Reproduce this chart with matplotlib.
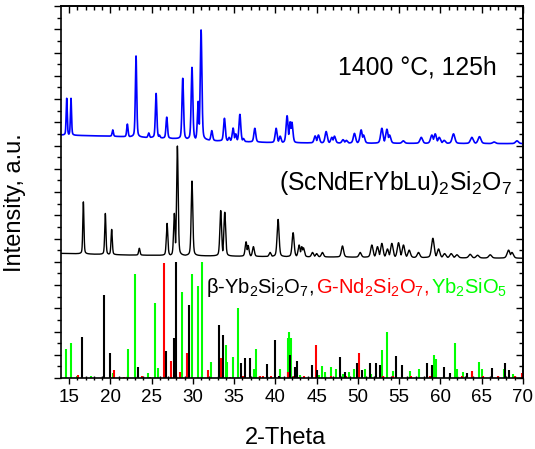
import numpy as np
import matplotlib
matplotlib.use("Agg")
import matplotlib.pyplot as plt
from matplotlib.ticker import MultipleLocator, NullFormatter
from matplotlib.offsetbox import TextArea, HPacker, AnnotationBbox

plt.rcParams['font.family'] = ['Liberation Sans', 'DejaVu Sans']
plt.rcParams['mathtext.fontset'] = 'custom'
plt.rcParams['mathtext.rm'] = 'Liberation Sans'
plt.rcParams['mathtext.it'] = 'Liberation Sans:italic'
plt.rcParams['mathtext.default'] = 'regular'

# --- 1400 C, 125h pattern (blue, offset trace on top) ---
blue_pos = [14.72, 15.24, 20.3, 22.07, 23.12, 24.66, 25.55, 25.95, 26.84, 28.78,
            29.9, 30.65, 31.0, 32.3, 33.83, 34.4, 34.88, 35.2, 35.7, 36.13,
            37.51, 40.09, 40.58, 41.42, 41.79, 42.0, 44.82, 45.22, 46.15, 46.84,
            47.16, 48.2, 48.6, 49.58, 50.39, 50.68, 52.9, 53.51, 53.83, 55.5,
            57.67, 58.96, 59.36, 59.85, 60.45, 61.58, 63.8, 64.73, 66.5, 69.27]
blue_top = [12.03, 12.03, 10.67, 10.92, 13.85, 10.54, 12.24, 10.45, 11.22, 12.89,
            13.36, 11.9, 14.97, 10.64, 11.17, 10.35, 10.75, 10.5, 11.34, 10.3,
            10.74, 10.74, 10.4, 11.28, 11.02, 11.0, 10.41, 10.45, 10.6, 10.35,
            10.4, 10.25, 10.22, 10.52, 10.67, 10.45, 10.74, 10.7, 10.45, 10.2,
            10.35, 10.45, 10.5, 10.35, 10.22, 10.5, 10.35, 10.38, 10.15, 10.2]
blue_base_x = [14, 20, 27, 33, 40, 50, 70]
blue_base_y = [10.45, 10.4, 10.31, 10.2, 10.12, 10.1, 10.08]

# --- (ScNdErYbLu)2Si2O7 pattern (black, middle trace) ---
black_pos = [16.74, 19.4, 20.17, 23.52, 26.88, 27.76, 28.13, 29.9, 33.38, 33.87,
             36.45, 36.7, 37.34, 39.36, 40.33, 42.15, 42.88, 43.2, 43.4, 44.5,
             45.0, 45.7, 48.13, 50.27, 51.69, 52.37, 52.9, 53.58, 54.11, 54.92,
             55.52, 56.21, 57.34, 59.08, 59.77, 60.5, 61.3, 62.0, 63.6, 64.5,
             66.03, 68.25, 68.66]
black_top = [7.58, 7.08, 6.39, 5.58, 6.65, 7.08, 9.98, 8.47, 7.2, 7.13,
             5.86, 5.7, 5.65, 5.4, 6.82, 6.25, 5.72, 5.65, 5.6, 5.4,
             5.35, 5.4, 5.68, 5.4, 5.72, 5.65, 5.79, 5.55, 5.79, 5.82,
             5.72, 5.5, 5.4, 6.01, 5.55, 5.35, 5.35, 5.3, 5.32, 5.28,
             5.3, 5.5, 5.4]
black_base_x = [14, 22, 40, 70]
black_base_y = [5.36, 5.29, 5.22, 5.15]

# --- reference sticks ---
yb2sio5_pos = [14.6, 15.21, 15.93, 17.63, 20.37, 22.11, 23.0, 24.54, 25.42, 25.83,
               28.7, 29.87, 30.64, 31.12, 32.25, 34.03, 34.19, 34.88, 35.52, 37.4,
               37.67, 40.58, 41.51, 41.7, 41.87, 43.0, 45.3, 45.7, 46.03, 46.72,
               47.33, 48.17, 48.86, 49.58, 50.88, 51.61, 52.9, 53.51, 54.31, 56.25,
               57.35, 59.17, 59.45, 61.71, 62.0, 62.72, 63.8, 64.73, 65.02, 67.65,
               68.78]
yb2sio5_int = [1.23, 1.49, 0.1, 0.1, 0.2, 1.23, 4.47, 0.2, 3.24, 0.43,
               3.71, 4.47, 3.96, 5.0, 0.69, 1.42, 0.69, 0.92, 3.0, 0.4,
               1.25, 0.37, 1.73, 1.99, 1.7, 0.12, 0.12, 0.53, 0.25, 0.46,
               0.4, 0.18, 0.25, 0.4, 0.4, 0.18, 1.22, 1.99, 0.3, 0.3,
               0.4, 0.97, 0.83, 1.49, 0.4, 0.25, 0.2, 0.69, 0.4, 0.4,
               0.18]

nd2si2o7_pos = [16.07, 20.49, 21.67, 23.82, 24.82, 26.48, 27.33, 28.42, 29.3, 29.5,
                31.81, 33.38, 34.5, 36.13, 38.15, 38.55, 39.44, 41.48, 42.2, 42.8,
                43.5, 44.98, 46.8, 48.5, 50.19, 51.5, 53.0, 54.2, 56.4, 58.7,
                60.4, 62.6, 63.8, 65.2, 67.0, 69.0, 69.9]
nd2si2o7_int = [0.13, 0.36, 0.05, 0.1, 0.05, 4.96, 0.73, 0.24, 1.06, 0.15,
                0.33, 0.87, 0.05, 0.1, 0.1, 0.07, 0.07, 0.24, 0.07, 0.05,
                0.07, 1.42, 0.07, 0.07, 1.06, 0.07, 0.07, 0.07, 0.07, 0.07,
                0.07, 0.07, 0.3, 0.07, 0.07, 0.07, 0.2]

yb2si2o7_pos = [16.62, 19.28, 19.97, 23.33, 26.76, 27.73, 27.94, 29.58, 33.14, 33.63,
                35.78, 36.27, 36.91, 38.97, 39.9, 40.43, 41.76, 42.38, 42.62, 44.42,
                45.03, 47.85, 48.45, 49.87, 50.48, 51.48, 52.17, 52.62, 54.64, 55.33,
                58.36, 58.97, 60.38, 61.1, 63.2, 66.3, 67.85, 68.25]
yb2si2o7_int = [1.75, 3.57, 1.06, 0.49, 1.16, 1.71, 5.0, 3.14, 2.28, 1.85,
                0.63, 0.87, 0.87, 0.6, 1.62, 0.1, 1.0, 0.47, 0.72, 0.56,
                0.34, 0.92, 0.27, 0.63, 0.34, 0.66, 0.63, 0.56, 0.95, 0.56,
                0.63, 0.56, 0.49, 0.2, 0.2, 0.42, 0.63, 0.34]

two_theta = np.linspace(14, 70, 6000)


def trace(pos, top, base_x, base_y):
    base = np.interp(two_theta, base_x, base_y)
    y = np.zeros_like(two_theta)
    for p, t in zip(pos, top):
        h = t - np.interp(p, base_x, base_y)
        w = 0.15 + 0.005 * (p - 14)
        d = (two_theta - p) / w
        prof = h * (0.65 * np.exp(-4 * np.log(2) * d ** 2) + 0.35 / (1 + 4 * d ** 2))
        y = np.maximum(y, prof)
    return base + y


fig = plt.figure(figsize=(5.35, 4.49), dpi=100)
ax = fig.add_axes([61 / 535, 71 / 449, 462 / 535, 372 / 449])

ax.plot(two_theta, trace(blue_pos, blue_top, blue_base_x, blue_base_y), color='#0000ff', lw=1.2)
ax.plot(two_theta, trace(black_pos, black_top, black_base_x, black_base_y), color='black', lw=1.0)

ax.vlines(yb2sio5_pos, 0, yb2sio5_int, color='#00ff00', lw=1.5)
ax.vlines(nd2si2o7_pos, 0, nd2si2o7_int, color='#ff0000', lw=1.5)
ax.vlines(yb2si2o7_pos, 0, yb2si2o7_int, color='black', lw=1.5)

ax.set_xlim(14.03, 70)
ax.set_ylim(0, 16)

ax.xaxis.set_major_locator(MultipleLocator(5))
ax.xaxis.set_minor_locator(MultipleLocator(1))
ax.yaxis.set_major_locator(MultipleLocator(1))
ax.yaxis.set_minor_locator(MultipleLocator(0.5))
ax.tick_params(axis='x', which='major', direction='out', length=4, width=1, labelsize=13.5, pad=4)
ax.tick_params(axis='x', which='minor', direction='inout', length=3, width=1)
ax.tick_params(axis='y', which='major', direction='out', length=5, width=1, labelleft=False)
ax.tick_params(axis='y', which='minor', direction='out', length=3, width=1)
for s in ax.spines.values():
    s.set_linewidth(1.2)

top = ax.secondary_xaxis('top')
top.xaxis.set_major_locator(MultipleLocator(5))
top.xaxis.set_minor_locator(MultipleLocator(1))
top.xaxis.set_major_formatter(NullFormatter())
top.tick_params(which='major', direction='in', length=5, width=1)
top.tick_params(which='minor', direction='in', length=3, width=1)
top.spines['top'].set_linewidth(1.2)

right = ax.secondary_yaxis('right')
right.yaxis.set_major_locator(MultipleLocator(1))
right.yaxis.set_minor_locator(MultipleLocator(0.5))
right.yaxis.set_major_formatter(NullFormatter())
right.tick_params(which='major', direction='in', length=5, width=1)
right.tick_params(which='minor', direction='in', length=3, width=1)
right.spines['right'].set_linewidth(1.2)

ax.set_xlabel('2-Theta', fontsize=17, va='baseline')
ax.xaxis.set_label_coords(0.485, -66 / 372)
ax.set_ylabel('Intensity, a.u.', fontsize=17, va='center')
ax.yaxis.set_label_coords(-46 / 462, 175 / 372)

ax.text(47.6, 13.07, '1400 °C, 125h', fontsize=17.8, va='baseline')
ax.text(40.5, 8.09, r'(ScNdErYbLu)$_2$Si$_2$O$_7$', fontsize=17.8, va='baseline')

nb = '\u00a0'
parts = [(r'$\beta$-Yb$_2$Si$_2$O$_7$,' + nb, 'black'),
         (r'G-Nd$_2$Si$_2$O$_7$,' + nb, '#ff0000'),
         (r'Yb$_2$SiO$_5$', '#00ff00')]
boxes = [TextArea(s, textprops=dict(color=c, fontsize=14.5)) for s, c in parts]
pack = HPacker(children=boxes, align='baseline', pad=0, sep=0)
ab = AnnotationBbox(pack, (31.6, 3.88), xycoords='data', box_alignment=(0, 0.5),
                    frameon=False, pad=0)
ax.add_artist(ab)

fig.savefig('out.png', dpi=100)
